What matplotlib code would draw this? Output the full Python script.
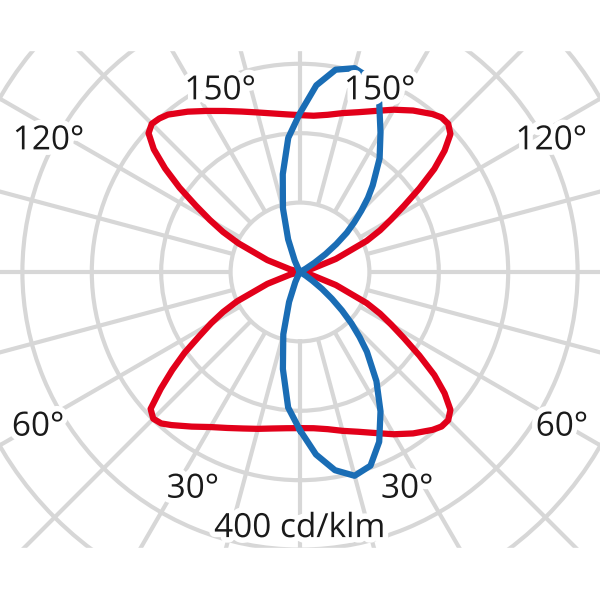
import matplotlib.pyplot as plt
import matplotlib.patheffects as pe
import numpy as np
from matplotlib.patches import Rectangle

plt.rcParams['font.family'] = ['Open Sans', 'DejaVu Sans']

# gamma angle from nadir (deg), 0 = down, 180 = up
gamma = [0, 5, 10, 15, 20, 25, 30, 35, 40, 42.5, 45, 47.5, 50, 52.5, 55, 57.5,
         60, 62.5, 65, 70, 75, 80, 85, 90, 95, 100, 105, 110, 115, 117.5, 120,
         122.5, 125, 127.5, 130, 132.5, 135, 137.5, 140, 145, 150, 155, 160,
         165, 170, 175, 180]

# luminous intensity in cd/klm, right half (C0) and left half (C180)
red_right = [225, 226, 230, 237, 245, 256, 270, 284, 297, 302, 302, 294, 272,
             244, 210, 178, 152, 130, 106, 55, 18, 3, 0, 0, 0, 3, 18, 55, 106,
             130, 152, 178, 210, 244, 272, 294, 302, 302, 297, 284, 270, 256,
             245, 237, 230, 226, 226]
red_left = [225, 226, 229, 234, 240, 248, 258, 272, 288, 296, 299, 292, 262,
            232, 203, 172, 148, 125, 100, 50, 15, 2, 0, 0, 0, 2, 15, 50, 98,
            125, 150, 178, 212, 245, 275, 296, 302, 300, 296, 282, 268, 256,
            246, 238, 232, 228, 226]

# right half (C90) and left half (C270)
blue_right = [228, 264, 290, 304, 297, 270, 232, 192, 150, 127, 105, 82, 60,
              40, 22, 10, 3, 0, 0, 0, 0, 0, 0, 0, 0, 0, 0, 0, 0, 3, 10, 25,
              45, 66, 88, 106, 125, 145, 163, 200, 232, 270, 297, 304, 296,
              270, 229]
blue_left = [228, 196, 142, 93, 46, 16, 4, 0, 0, 0, 0, 0, 0, 0, 0, 0, 0, 0,
             0, 0, 0, 0, 0, 0, 0, 0, 0, 0, 0, 0, 0, 0, 0, 0, 0, 0, 0, 0, 0, 0,
             4, 18, 50, 95, 143, 194, 229]

rings = [100, 200, 300, 400, 500]
spokes = np.arange(0, 360, 15)

# angle labels: text, gamma position, radius position (baseline)
angle_labels = ['30°', '60°', '120°', '150°']
label_gamma = [25.4, 58.0, 116.0, 155.2]
label_r = [360, 445, 403, 274]
unit_label = '400 cd/klm'

red = '#e2001a'
blue = '#1a6db5'
grey = '#d7d7d7'

fig = plt.figure(figsize=(6, 6), dpi=100)
ax = fig.add_axes([-0.194, -0.1473, 1.388, 1.388], projection='polar')
ax.set_theta_zero_location('S')
ax.set_theta_direction(1)
ax.set_ylim(0, 600)

ax.set_rgrids(rings, labels=[])
ax.yaxis.grid(True, color=grey, lw=3)
ax.set_thetagrids([])
ax.xaxis.grid(False)
ax.spines['polar'].set_visible(False)
ax.vlines(np.radians(spokes), 100, 600, color=grey, lw=3, zorder=1)


def loop(right, left):
    g = np.array(gamma)
    th = np.concatenate([np.radians(g), np.radians(360 - g[::-1])])
    r = np.concatenate([right, left[::-1]])
    return th, r


th, r = loop(red_right, red_left)
ax.plot(th, r, color=red, lw=4.5, zorder=3, solid_joinstyle='round')
th, r = loop(blue_right, blue_left)
ax.plot(th, r, color=blue, lw=4.5, zorder=4, solid_joinstyle='round')

halo = [pe.withStroke(linewidth=8, foreground='white')]
for txt, g, rr in zip(angle_labels, label_gamma, label_r):
    for th_lab in (np.radians(g), np.radians(360 - g)):
        ax.text(th_lab, rr, txt, fontsize=24, color='#1a1a1a', ha='center',
                va='baseline', zorder=6, path_effects=halo)
ax.text(0, 382, unit_label, fontsize=24, color='#1a1a1a', ha='center',
        va='baseline', zorder=6, path_effects=halo)

# blank bands above and below the diagram
fig.add_artist(Rectangle((0, 550 / 600), 1, 50 / 600, transform=fig.transFigure,
                         color='white', zorder=10))
fig.add_artist(Rectangle((0, 0), 1, 52 / 600, transform=fig.transFigure,
                         color='white', zorder=10))

fig.savefig('out.png', dpi=100)
